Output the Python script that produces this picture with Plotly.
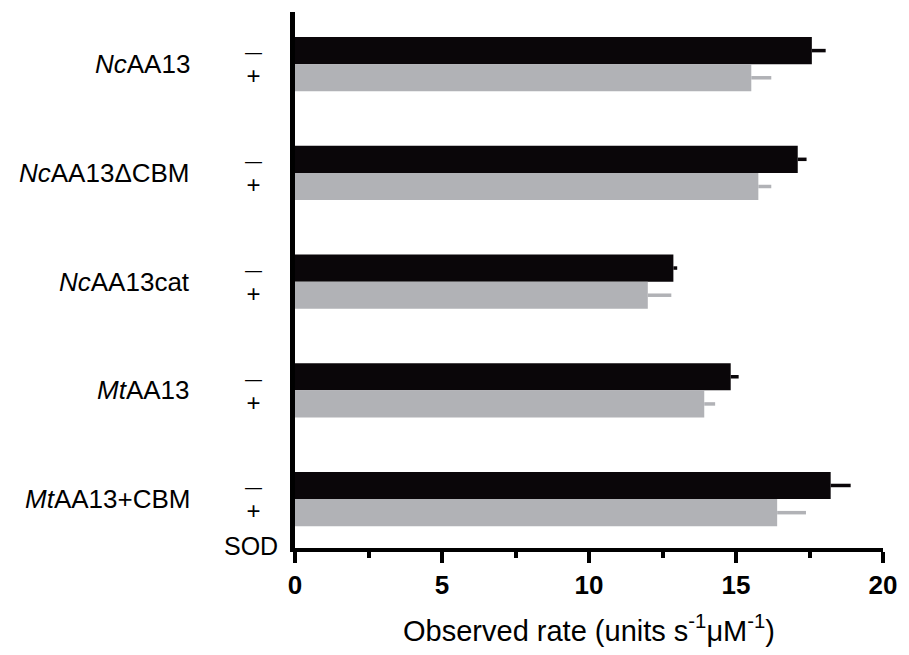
import plotly.graph_objects as go

categories = ["<i>Nc</i>AA13", "<i>Nc</i>AA13ΔCBM", "<i>Nc</i>AA13cat", "<i>Mt</i>AA13", "<i>Mt</i>AA13+CBM"]
minus_sod = [17.58, 17.1, 12.87, 14.82, 18.22]
minus_err = [0.47, 0.3, 0.13, 0.27, 0.68]
plus_sod = [15.52, 15.76, 12.0, 13.92, 16.4]
plus_err = [0.68, 0.44, 0.8, 0.37, 0.98]
x_ticks = [0, 5, 10, 15, 20]
sod_labels = ["—", "+"]

pos = list(range(len(categories)))
FONT = "Liberation Sans, Arial, sans-serif"

fig = go.Figure()
fig.add_trace(go.Bar(
    y=pos, x=minus_sod, orientation="h", marker=dict(color="#0a0609", line=dict(width=0)),
    error_x=dict(type="data", array=minus_err, arrayminus=[0]*5, symmetric=False,
                 color="#0a0609", thickness=3.5, width=0),
    name="−", showlegend=False))
fig.add_trace(go.Bar(
    y=pos, x=plus_sod, orientation="h", marker=dict(color="#b1b2b6", line=dict(width=0)),
    error_x=dict(type="data", array=plus_err, arrayminus=[0]*5, symmetric=False,
                 color="#b1b2b6", thickness=3.5, width=0),
    name="+", showlegend=False))

sod_text = ("<span style='font-size:17px'>%s</span><br><span style='font-size:24px'>%s</span>"
            % (sod_labels[0], sod_labels[1]))

annotations = []
for i, c in enumerate(categories):
    annotations.append(dict(x=-0.175, xref="paper", y=i, yref="y", text=c, showarrow=False,
                            xanchor="right", yanchor="middle", font=dict(size=26, family=FONT, color="black")))
    annotations.append(dict(x=-0.071, xref="paper", y=i + 0.02, yref="y", text=sod_text,
                            showarrow=False, xanchor="center", yanchor="middle",
                            font=dict(size=20, family=FONT, color="black")))
annotations.append(dict(x=-0.074, xref="paper", y=4.43, yref="y", text="SOD", showarrow=False,
                        xanchor="center", yanchor="middle", font=dict(size=25, family=FONT, color="black")))

fig.update_layout(
    width=893, height=639,
    margin=dict(l=287, r=11, t=4, b=90),
    plot_bgcolor="white", paper_bgcolor="white",
    barmode="group", bargap=0.5, bargroupgap=0,
    annotations=annotations,
    xaxis=dict(range=[0, 20], tickvals=x_ticks, ticktext=[str(v) for v in x_ticks],
               showgrid=False, zeroline=False, showline=True, linecolor="black", linewidth=4,
               ticks="outside", ticklen=11, tickwidth=4, tickcolor="black",
               ticklabeloverflow="allow",
               minor=dict(dtick=2.5, tick0=0, ticks="outside", ticklen=6, tickwidth=4, tickcolor="black"),
               tickfont=dict(size=26, family=FONT, color="black", weight="bold"),
               title=dict(text="Observed rate (units s<sup>-1</sup>μM<sup>-1</sup>)",
                          font=dict(size=29, family=FONT, color="black"), standoff=22)),
    yaxis=dict(range=[4.45, -0.48], showticklabels=False, showgrid=False, zeroline=False,
               showline=True, linecolor="black", linewidth=5, ticks=""),
)

fig.write_html("out.html")
